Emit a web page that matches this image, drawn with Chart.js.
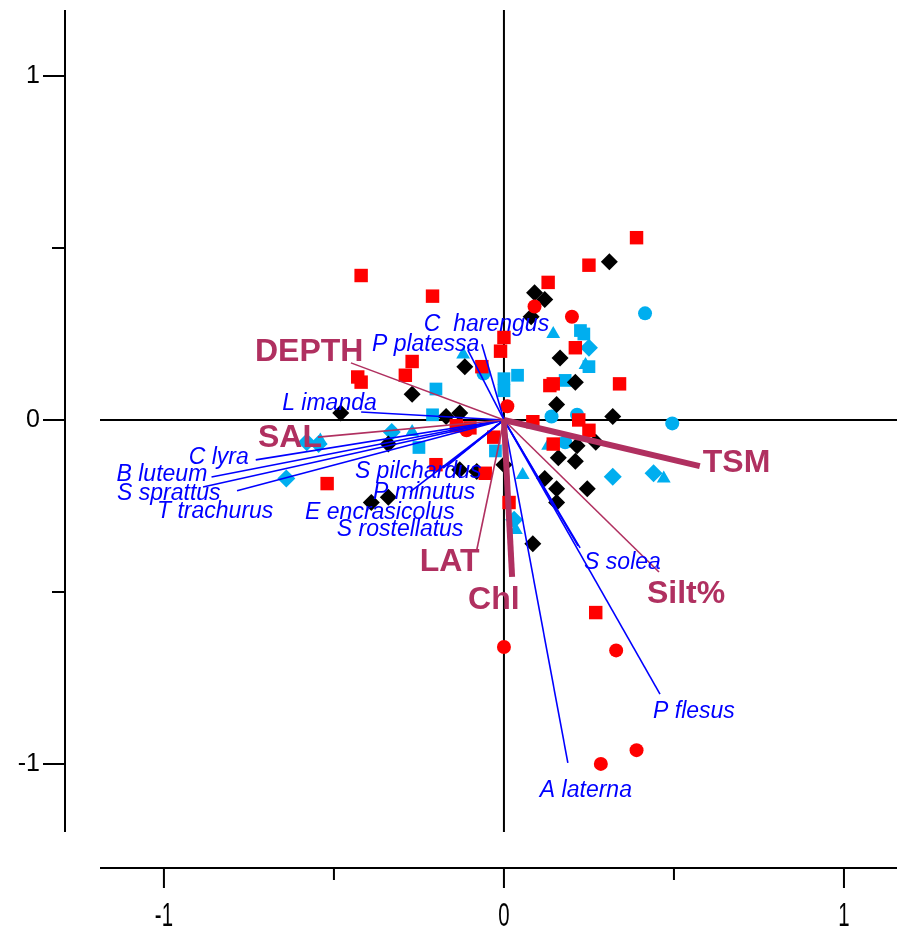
<!DOCTYPE html>
<html>
<head>
<meta charset="utf-8">
<script src="https://cdn.jsdelivr.net/npm/chart.js@4"></script>
<style>
  html, body { margin: 0; padding: 0; background: #fff; overflow: hidden; }
  #wrap { width: 900px; height: 932px; }
  canvas { display: block; }
</style>
</head>
<body>
<div id="wrap"><canvas id="myChart" width="900" height="932"></canvas></div>
<script>
// sample scores, [axis1, axis2]
const redSquare = [[-0.42,0.42],[-0.21,0.36],[-0.27,0.17],[-0.29,0.13],[-0.43,0.125],[-0.42,0.11],
  [-0.065,0.155],[0.0,0.24],[-0.01,0.2],[0.39,0.53],[0.25,0.45],[0.13,0.4],[0.21,0.21],[0.34,0.105],
  [0.145,0.105],[0.135,0.1],[0.22,0.0],[0.25,-0.03],[0.085,-0.005],[0.145,-0.07],[0.015,-0.24],
  [-0.2,-0.13],[-0.055,-0.155],[-0.03,-0.05],[-0.14,-0.017],[-0.1,-0.023],[-0.52,-0.185],[0.27,-0.56]];
const redCircle = [[0.09,0.33],[0.2,0.3],[0.01,0.04],[-0.11,-0.03],[0.0,-0.66],[0.33,-0.67],[0.39,-0.96],[0.285,-1.0]];
const blackDiamond = [[0.31,0.46],[0.09,0.37],[0.12,0.35],[0.08,0.3],[0.165,0.18],[0.21,0.11],[0.155,0.045],
  [0.32,0.01],[-0.115,0.155],[-0.27,0.075],[-0.48,0.02],[-0.17,0.01],[-0.13,0.02],[0.27,-0.065],[0.215,-0.075],
  [0.16,-0.11],[0.21,-0.12],[0.12,-0.17],[0.155,-0.2],[0.245,-0.2],[0.155,-0.24],[0.085,-0.36],[0.0,-0.13],
  [-0.34,-0.07],[-0.13,-0.145],[-0.08,-0.15],[-0.39,-0.24],[-0.34,-0.225]];
const cyanSquare = [[0.225,0.26],[0.235,0.25],[0.25,0.155],[0.18,0.115],[0.04,0.13],[0.0,0.12],[0.0,0.085],
  [-0.2,0.09],[-0.21,0.015],[-0.25,-0.08],[-0.025,-0.09]];
const cyanCircle = [[0.415,0.31],[0.14,0.01],[0.215,0.015],[0.495,-0.01],[0.18,-0.065],[-0.06,0.135]];
const cyanDiamond = [[0.25,0.21],[0.32,-0.165],[0.44,-0.155],[0.03,-0.29],[-0.58,-0.065],[-0.545,-0.07],[-0.64,-0.17],[-0.33,-0.035]];
const cyanTriangle = [[0.145,0.25],[0.24,0.16],[-0.12,0.19],[-0.27,-0.035],[-0.54,-0.06],[0.055,-0.16],[0.47,-0.17],[0.035,-0.32],[0.13,-0.075]];

// species arrows
const species  = ['C  harengus','P platessa','L imanda','C lyra','B luteum','S sprattus','T trachurus',
  'S pilchardus','P minutus','E encrasicolus','S rostellatus','S solea','','A laterna','P flesus'];
const speciesX = [-0.065,-0.106,-0.42,-0.73,-0.86,-0.885,-0.785,-0.159,-0.276,-0.179,-0.168,0.224,0.218,0.188,0.459];
const speciesY = [0.22,0.203,0.023,-0.116,-0.166,-0.195,-0.206,-0.125,-0.209,-0.14,-0.134,-0.372,-0.366,-0.997,-0.797];

// environmental variables
const envVars = ['DEPTH','SAL','TSM','Silt%','LAT','Chl'];
const envX = [-0.45,-0.547,0.576,0.456,-0.08,0.024];
const envY = [0.166,-0.05,-0.134,-0.442,-0.378,-0.456];
const envBold = [false,false,true,false,false,true];

const tickValues = [-1, 0, 1];
const minorTicks = [-0.5, 0.5];

const CYAN = '#00AEEF';
const MAROON = '#B03060';

// label placement, pixels from arrow tip (left edge, middle)
const speciesLabelOffset = {
  'C  harengus': [-58,-20], 'P platessa': [-96,-6], 'L imanda': [-79,-8], 'C lyra': [-67,-2],
  'B luteum': [-95,-2], 'S sprattus': [-86,7], 'T trachurus': [-80,21], 'S pilchardus': [-95,9],
  'P minutus': [-37,1], 'E encrasicolus': [-138,44], 'S rostellatus': [-110,64], 'S solea': [4,15],
  'A laterna': [-28,28], 'P flesus': [-7,18]
};
const envLabelOffset = {
  'DEPTH': [-96,-11], 'SAL': [-60,1], 'TSM': [3,-3], 'Silt%': [-12,22], 'LAT': [-57,12], 'Chl': [-44,23]
};

const toPts = arr => arr.map(p => ({ x: p[0], y: p[1] }));

function pointSet(arr, style, color, r) {
  return {
    type: 'scatter', data: toPts(arr), pointStyle: style, pointRadius: r, pointHoverRadius: r,
    backgroundColor: color, borderColor: color, borderWidth: 0, order: 3
  };
}

const datasets = [];
speciesX.forEach((v, i) => {
  datasets.push({
    type: 'scatter', data: [{ x: 0, y: 0 }, { x: v, y: speciesY[i] }], showLine: true,
    borderColor: '#0000FF', borderWidth: 1.6, pointRadius: 0, order: 1
  });
});
envX.forEach((v, i) => {
  datasets.push({
    type: 'scatter', data: [{ x: 0, y: 0 }, { x: v, y: envY[i] }], showLine: true,
    borderColor: MAROON, borderWidth: envBold[i] ? 6 : 1.6, pointRadius: 0, order: 0
  });
});
datasets.push(pointSet(redSquare, 'rect', '#FF0000', 9.5));
datasets.push(pointSet(redCircle, 'circle', '#FF0000', 7));
datasets.push(pointSet(blackDiamond, 'rectRot', '#000000', 8.5));
datasets.push(pointSet(cyanSquare, 'rect', CYAN, 9));
datasets.push(pointSet(cyanCircle, 'circle', CYAN, 7));
datasets.push(pointSet(cyanDiamond, 'rectRot', CYAN, 9));
datasets.push(pointSet(cyanTriangle, 'triangle', CYAN, 8));

const framePlugin = {
  id: 'frame',
  beforeDatasetsDraw(chart) {
    const { ctx, chartArea: a, scales: { x, y } } = chart;
    const x0 = x.getPixelForValue(0), y0 = y.getPixelForValue(0);
    ctx.save();
    ctx.strokeStyle = '#000';
    ctx.lineWidth = 2;
    ctx.beginPath();
    ctx.moveTo(x0, a.top); ctx.lineTo(x0, a.bottom);
    ctx.moveTo(a.left, y0); ctx.lineTo(a.right, y0);
    ctx.stroke();

    // detached left axis
    const lx = a.left - 35;
    ctx.beginPath();
    ctx.moveTo(lx, a.top); ctx.lineTo(lx, a.bottom);
    tickValues.forEach(t => { const py = y.getPixelForValue(t); ctx.moveTo(lx - 22, py); ctx.lineTo(lx, py); });
    minorTicks.forEach(t => { const py = y.getPixelForValue(t); ctx.moveTo(lx - 13, py); ctx.lineTo(lx, py); });
    // detached bottom axis
    const by = a.bottom + 36;
    ctx.moveTo(a.left, by); ctx.lineTo(a.right, by);
    tickValues.forEach(t => { const px = x.getPixelForValue(t); ctx.moveTo(px, by); ctx.lineTo(px, by + 20); });
    minorTicks.forEach(t => { const px = x.getPixelForValue(t); ctx.moveTo(px, by); ctx.lineTo(px, by + 12); });
    ctx.stroke();

    ctx.fillStyle = '#000';
    ctx.font = '25px Arial, "Liberation Sans"';
    ctx.textAlign = 'right';
    ctx.textBaseline = 'middle';
    tickValues.forEach(t => ctx.fillText(String(t), lx - 25, y.getPixelForValue(t)));

    ctx.textAlign = 'center';
    tickValues.forEach(t => {
      ctx.save();
      ctx.translate(x.getPixelForValue(t), by + 49);
      ctx.scale(0.6, 1);
      ctx.font = '34px Arial, "Liberation Sans"';
      ctx.fillText(String(t), 0, 0);
      ctx.restore();
    });
    ctx.restore();
  },
  afterDraw(chart) {
    const { ctx, scales: { x, y } } = chart;
    ctx.save();
    ctx.textAlign = 'left';
    ctx.textBaseline = 'middle';
    ctx.fillStyle = '#0000FF';
    ctx.font = 'italic 23px Arial, "Liberation Sans"';
    species.forEach((s, i) => {
      if (!s) return;
      const o = speciesLabelOffset[s];
      ctx.fillText(s, x.getPixelForValue(speciesX[i]) + o[0], y.getPixelForValue(speciesY[i]) + o[1]);
    });
    ctx.fillStyle = MAROON;
    ctx.font = 'bold 32px Arial, "Liberation Sans"';
    envVars.forEach((s, i) => {
      const o = envLabelOffset[s];
      ctx.fillText(s, x.getPixelForValue(envX[i]) + o[0], y.getPixelForValue(envY[i]) + o[1]);
    });
    ctx.restore();
  }
};

const ctx = document.getElementById('myChart').getContext('2d');
const myChart = new Chart(ctx, {
  type: 'scatter',
  data: { datasets: datasets },
  options: {
    responsive: false,
    animation: false,
    layout: { autoPadding: false, padding: { left: 100, right: 3, top: 10, bottom: 100 } },
    plugins: { legend: { display: false }, tooltip: { enabled: false } },
    scales: {
      x: { type: 'linear', min: -1.188, max: 1.156, display: false },
      y: { type: 'linear', min: -1.198, max: 1.192, display: false }
    }
  },
  plugins: [framePlugin]
});
</script>
</body>
</html>
